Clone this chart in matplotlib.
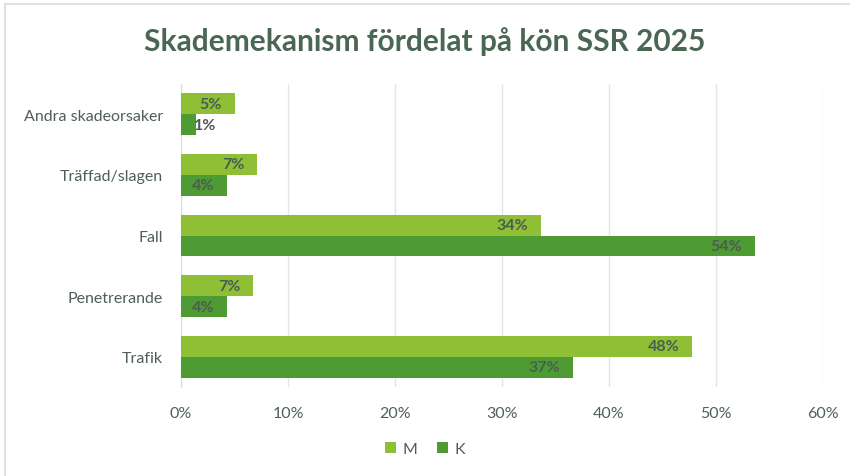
import matplotlib
matplotlib.use("Agg")
import matplotlib.pyplot as plt
from matplotlib.patches import Rectangle
import numpy as np

# === DATA ===
categories = ["Andra skadeorsaker", "Träffad/slagen", "Fall", "Penetrerande", "Trafik"]
m_values = [5.0, 7.1, 33.6, 6.7, 47.8]   # % men
k_values = [1.4, 4.3, 53.6, 4.3, 36.6]   # % women
series_names = ["M", "K"]
x_ticks = [0, 10, 20, 30, 40, 50, 60]
title = "Skademekanism fördelat på kön SSR 2025"

# === STYLE ===
plt.rcParams['font.family'] = ['Lato', 'DejaVu Sans']
M_COLOR = '#8fbf35'
K_COLOR = '#4f9b33'
TEXT_COLOR = '#4f5f55'
LABEL_COLOR = '#4a5d52'
TITLE_COLOR = '#4a6753'
GRID_COLOR = '#e3e6e6'

fig = plt.figure(figsize=(8.5, 4.77), dpi=100)
ax = fig.add_axes([181/850, 1-388/477, (823-181)/850, (388-85)/477])

# figure border (top and left visible)
fig.add_artist(Rectangle((4.5/850, -0.01), 1.0, 1 - 4.5/477 + 0.01,
                         transform=fig.transFigure, fill=False,
                         edgecolor='#d9dcdc', lw=1.2))

y = np.arange(len(categories))[::-1]
h = 0.345
bars_m = ax.barh(y + h/2, m_values, height=h, color=M_COLOR, label=series_names[0], zorder=3)
bars_k = ax.barh(y - h/2, k_values, height=h, color=K_COLOR, label=series_names[1], zorder=3)

# data labels, inside end
for bars, vals in [(bars_m, m_values), (bars_k, k_values)]:
    for b, v in zip(bars, vals):
        yc = b.get_y() + b.get_height()/2
        txt = f"{round(v):.0f}%"
        if v < 3:
            ax.annotate(txt, (0, yc), xytext=(9, 0), textcoords='offset points',
                        ha='left', va='center', fontsize=11.5, fontweight='bold',
                        color=LABEL_COLOR, zorder=4)
        else:
            ax.annotate(txt, (v, yc), xytext=(-9, 0), textcoords='offset points',
                        ha='right', va='center', fontsize=11.5, fontweight='bold',
                        color=LABEL_COLOR, zorder=4)

ax.set_xlim(0, 60)
ax.set_ylim(-0.5, len(categories) - 0.5)
ax.set_xticks(x_ticks)
ax.set_xticklabels([f"{t}%" for t in x_ticks])
ax.set_yticks(y)
ax.set_yticklabels(categories)
ax.tick_params(axis='both', length=0, labelsize=11.5, colors=TEXT_COLOR)
ax.tick_params(axis='x', pad=14)
ax.tick_params(axis='y', pad=13)
ax.grid(axis='x', color=GRID_COLOR, lw=1, zorder=0)
for s in ['top', 'right', 'bottom']:
    ax.spines[s].set_visible(False)
ax.spines['left'].set_color('#d9dcdc')

fig.text(0.5, 1 - 42/477, title, ha='center', va='center',
         fontsize=21.5, fontweight='bold', color=TITLE_COLOR)

leg = fig.legend(loc='center', bbox_to_anchor=(0.5, 1 - 450/477), ncol=2,
                 frameon=False, fontsize=11.5, handlelength=0.7, handleheight=0.7,
                 handletextpad=0.4, columnspacing=1.2)
for t in leg.get_texts():
    t.set_color(TEXT_COLOR)

fig.savefig("out.png", dpi=100, facecolor='white')
